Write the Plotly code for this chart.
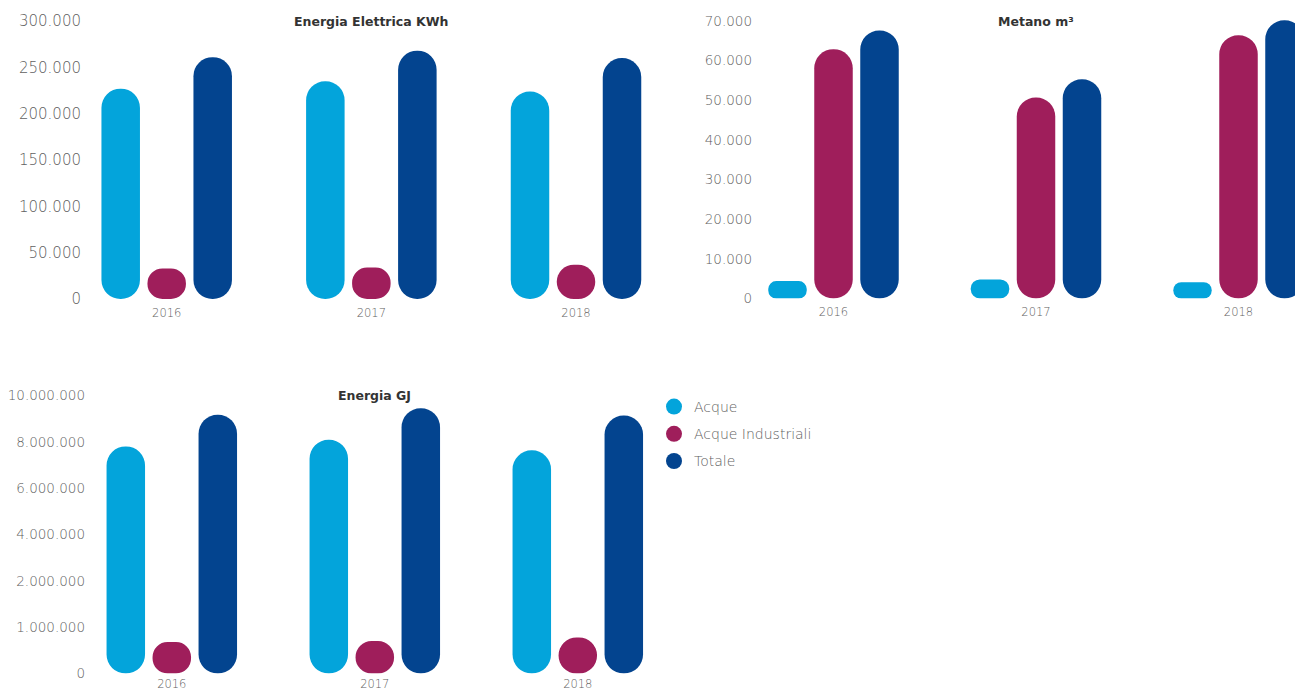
import numpy as np
import plotly.graph_objects as go

# ---- data -------------------------------------------------------------
YEARS = ["2016", "2017", "2018"]
SERIES = ["Acque", "Acque Industriali", "Totale"]

KWH_ACQUE = [227000, 235000, 224000]
KWH_INDUSTRIALI = [33000, 34000, 37000]
KWH_TOTALE = [261000, 268000, 260000]

METANO_ACQUE = [4400, 4800, 4100]
METANO_INDUSTRIALI = [62900, 50700, 66400]
METANO_TOTALE = [67600, 55300, 70200]

GJ_ACQUE = [7810000, 8100000, 7640000]
GJ_INDUSTRIALI = [680000, 700000, 780000]
GJ_TOTALE = [9180000, 9460000, 9140000]

# the GJ axis uses unevenly spaced ticks, each one step apart
GJ_TICKS = [0, 1000000, 2000000, 4000000, 6000000, 8000000, 10000000]
GJ_TICK_TEXT = ["0", "1.000.000", "2.000.000", "4.000.000",
                "6.000.000", "8.000.000", "10.000.000"]

# ---- style ------------------------------------------------------------
COLORS = ["#03A4DB", "#9F1E5B", "#03448F"]
FONT = "DejaVu Sans"
TICK_COLOR = "#5f5f5f"
TITLE_COLOR = "#333333"
W, H = 1295, 690
BAR_W_PX = 38.5
BAR_STEP_PX = 46.0

# panel geometry in pixels
PANELS = [
    dict(key="kwh", title="Energia Elettrica KWh", xa="x", ya="y",
         left=86, right=680, cat0=166.7, step=204.65,
         zero=299.0, tick_px=21.0, tick_val=300000, top=8.0, ysize=15,
         ystand=4, xstand=5,
         series=[KWH_ACQUE, KWH_INDUSTRIALI, KWH_TOTALE]),
    dict(key="metano", title="Metano m³", xa="x2", ya="y2",
         left=755, right=1295, cat0=833.5, step=202.5,
         zero=298.5, tick_px=21.0, tick_val=70000, top=8.0, ysize=13.5,
         ystand=2, xstand=5,
         series=[METANO_ACQUE, METANO_INDUSTRIALI, METANO_TOTALE]),
    dict(key="gj", title="Energia GJ", xa="x3", ya="y3",
         left=89, right=680, cat0=171.8, step=203.0,
         zero=673.5, tick_px=395.7, tick_val=len(GJ_TICKS) - 1, top=383.0, ysize=13.5,
         ystand=3, xstand=2,
         series=[GJ_ACQUE, GJ_INDUSTRIALI, GJ_TOTALE]),
]


def gj_position(values):
    return np.interp(values, GJ_TICKS, np.arange(len(GJ_TICKS)))


fig = go.Figure()
layout_axes = {}
annotations = []

for p in PANELS:
    xs = np.arange(len(YEARS))
    bw = BAR_W_PX / p["step"]
    for i, (name, vals) in enumerate(zip(SERIES, p["series"])):
        center = (i - 1) * BAR_STEP_PX / p["step"]
        if p["key"] == "gj":
            yv = gj_position(vals)
            custom = [f"{v:,.0f}".replace(",", ".") for v in vals]
            hover = "%{customdata}<extra>" + name + "</extra>"
        else:
            yv = vals
            custom = None
            hover = "%{y:,.0f}<extra>" + name + "</extra>"
        fig.add_trace(go.Bar(
            x=xs, y=yv, base=0, width=bw, offset=center - bw / 2,
            name=name, legendgroup=name, showlegend=False,
            marker=dict(color=COLORS[i], cornerradius="50%", line=dict(width=0)),
            customdata=custom, hovertemplate=hover,
            xaxis=p["xa"], yaxis=p["ya"],
        ))

    xr = [(p["left"] - p["cat0"]) / p["step"], (p["right"] - p["cat0"]) / p["step"]]
    ymax = (p["zero"] - p["top"]) / (p["zero"] - p["tick_px"]) * p["tick_val"]
    xname = "xaxis" + p["xa"][1:]
    yname = "yaxis" + p["ya"][1:]
    layout_axes[xname] = dict(
        domain=[p["left"] / W, min(p["right"] / W, 1.0)], range=xr,
        anchor=p["ya"], tickvals=list(range(len(YEARS))), ticktext=YEARS,
        showgrid=False, zeroline=False, showline=False, ticks="",
        tickfont=dict(family=FONT, size=11.5, color=TICK_COLOR, weight=300),
        ticklabelstandoff=p["xstand"], automargin=False, fixedrange=True,
    )
    yaxis = dict(
        domain=[1 - p["zero"] / H, 1 - p["top"] / H], range=[0, ymax],
        anchor=p["xa"], showgrid=False, zeroline=False, showline=False, ticks="",
        tickfont=dict(family=FONT, size=p["ysize"], color=TICK_COLOR, weight=300),
        ticklabelstandoff=p["ystand"], automargin=False, fixedrange=True,
    )
    if p["key"] == "gj":
        yaxis.update(tickmode="array", tickvals=list(range(len(GJ_TICKS))),
                     ticktext=GJ_TICK_TEXT)
    else:
        yaxis.update(tickmode="linear", tick0=0, dtick=p["tick_val"] / (6 if p["key"] == "kwh" else 7),
                     tickformat=",d")
    layout_axes[yname] = yaxis

    annotations.append(dict(
        text=p["title"], xref=p["xa"], yref=p["ya"], x=1, y=p["tick_val"],
        xanchor="center", yanchor="middle", showarrow=False,
        font=dict(family=FONT, size=12.5, color=TITLE_COLOR, weight="bold"),
    ))

# legend entries shown as round swatches
for name, color in zip(SERIES, COLORS):
    fig.add_trace(go.Scatter(
        x=[None], y=[None], mode="markers", name=name, legendgroup=name,
        marker=dict(size=16, color=color, symbol="circle"),
        hoverinfo="skip", xaxis="x", yaxis="y",
    ))

fig.update_layout(
    width=W, height=H,
    margin=dict(l=0, r=0, t=0, b=0, autoexpand=False),
    paper_bgcolor="white", plot_bgcolor="white",
    barmode="overlay",
    separators=",.",
    annotations=annotations,
    showlegend=True,
    legend=dict(
        x=654 / W, y=1 - 391 / H, xanchor="left", yanchor="top",
        font=dict(family=FONT, size=14, color=TICK_COLOR, weight=300),
        tracegroupgap=6, itemwidth=30, bgcolor="rgba(0,0,0,0)",
    ),
    **layout_axes,
)

fig.write_html("out.html")
